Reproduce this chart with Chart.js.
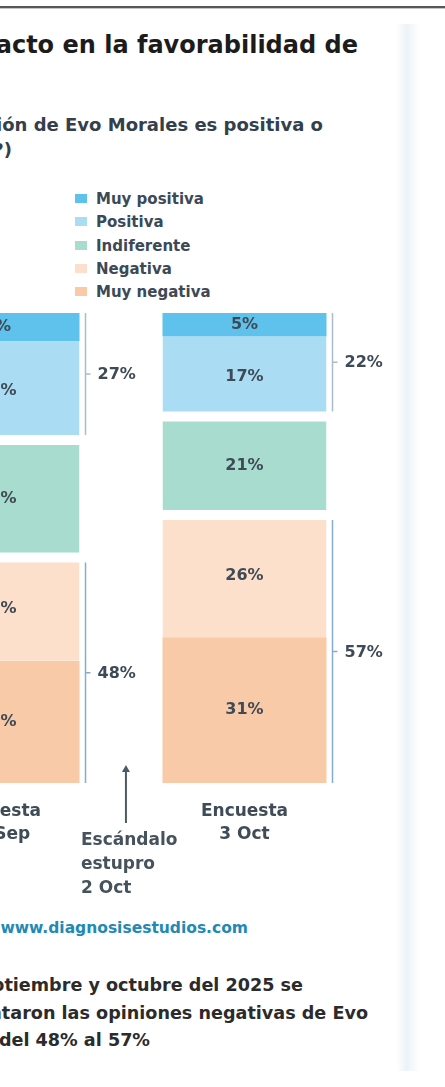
<!DOCTYPE html>
<html lang="es">
<head>
<meta charset="utf-8">
<script src="https://cdn.jsdelivr.net/npm/chart.js@4.4.0/dist/chart.umd.min.js"></script>
<style>
  body { margin:0; width:445px; height:1087px; overflow:hidden; background:#fff; position:relative; font-family:"DejaVu Sans", sans-serif; }
  .topline { position:absolute; left:0; top:6px; width:445px; height:2px; background:#585858; border-bottom:1px solid #c4c4c4; }
  .strip { position:absolute; left:396px; top:24px; width:24px; height:1047px; background:linear-gradient(to right, #fff, #edf2f6 45%, #f2f6f9 60%, #fff); }
  .txt { position:absolute; white-space:nowrap; }
  .title { font-weight:bold; font-size:24px; line-height:28px; color:#1c1c1c; }
  .sub { font-weight:bold; font-size:18px; line-height:25px; color:#33404c; }
  .src { font-weight:bold; font-size:15.5px; line-height:20px; color:#2289b4; }
  .note { font-weight:bold; font-size:17.6px; line-height:26px; color:#2b2b2b; }
  #legend { position:absolute; left:75px; top:188px; }
  .item { height:23.3px; line-height:23.3px; font-size:15px; font-weight:bold; color:#3c4956; white-space:nowrap; }
  .box { display:inline-block; width:12px; height:9px; margin-right:9px; vertical-align:1px; }
  #chart { position:absolute; left:-126px; top:300px; }
</style>
</head>
<body>
<div class="topline"></div>
<div class="strip"></div>

<div class="txt title" style="right:87px; top:31px;">Impacto en la favorabilidad de</div>
<div class="txt sub" style="right:122px; top:112px;">(Pregunta: ¿Su opinión de Evo Morales es positiva o</div>
<div class="txt sub" style="right:433px; top:137px;">negativa?)</div>

<div id="legend"></div>
<canvas id="chart" width="526" height="603"></canvas>

<div class="txt src" style="right:197px; top:918px;">Fuente: www.diagnosisestudios.com</div>
<div class="txt note" style="right:142px; top:972px;">Entre septiembre y octubre del 2025 se</div>
<div class="txt note" style="right:77px; top:1000px;">aumentaron las opiniones negativas de Evo</div>
<div class="txt note" style="right:295px; top:1027px;">Morales del 48% al 57%</div>

<script>
const categories = [["Encuesta", "26 Sep"], ["Encuesta", "3 Oct"]];
const seriesNames = ["Muy positiva", "Positiva", "Indiferente", "Negativa", "Muy negativa"];
const muyPositiva = [6, 5];
const positiva = [21, 17];
const indiferente = [25, 21];
const negativa = [22, 26];
const muyNegativa = [26, 31];
const colors = ["#5ec2ec", "#aadcf4", "#a8dccf", "#fde0cb", "#f9caa8"];
const eventLabel = ["Escándalo", "estupro", "2 Oct"];

const values = [muyPositiva, positiva, indiferente, negativa, muyNegativa];
// white borders make the gaps between positive / indifferent / negative blocks
const gaps = [
  { top: 0, bottom: 0, left: 0, right: 0 },
  { top: 0, bottom: 5, left: 0, right: 0 },
  { top: 5, bottom: 5, left: 0, right: 0 },
  { top: 5, bottom: 0, left: 0, right: 0 },
  { top: 0, bottom: 0, left: 0, right: 0 },
];

// legend
const legend = document.getElementById("legend");
seriesNames.forEach((name, i) => {
  const row = document.createElement("div");
  row.className = "item";
  row.innerHTML = '<span class="box" style="background:' + colors[i] + '"></span>' + name;
  legend.appendChild(row);
});

const overlay = {
  id: "overlay",
  afterDatasetsDraw(chart) {
    const ctx = chart.ctx;
    const area = chart.chartArea;
    ctx.save();
    ctx.textAlign = "center";
    ctx.textBaseline = "middle";
    ctx.font = "bold 16px 'DejaVu Sans'";
    ctx.fillStyle = "#3e4a55";
    chart.data.datasets.forEach((ds, i) => {
      chart.getDatasetMeta(i).data.forEach((bar, j) => {
        ctx.fillText(ds.data[j] + "%", bar.x, (bar.y + bar.base) / 2);
      });
    });

    // brackets for positive and negative totals
    const groups = [[0, 1], [3, 4]];
    chart.getDatasetMeta(0).data.forEach((bar, j) => {
      const bx = bar.x + bar.width / 2 + 6;
      groups.forEach((g, n) => {
        const a = chart.getDatasetMeta(g[0]).data[j];
        const b = chart.getDatasetMeta(g[1]).data[j];
        const top = Math.min(a.y, a.base) + gaps[g[0]].top;
        const bottom = Math.max(b.y, b.base) - gaps[g[1]].bottom;
        const mid = (top + bottom) / 2;
        const total = values[g[0]][j] + values[g[1]][j];
        ctx.strokeStyle = n === 0 ? "#a9bccb" : "#86acd0";
        ctx.lineWidth = 1.5;
        ctx.beginPath();
        ctx.moveTo(bx, top);
        ctx.lineTo(bx, bottom);
        ctx.moveTo(bx, mid);
        ctx.lineTo(bx + 5, mid);
        ctx.stroke();
        ctx.textAlign = "left";
        ctx.fillStyle = "#3e4a56";
        ctx.fillText(total + "%", bx + 12, mid + 1);
      });
    });

    // event arrow between the two surveys
    const ax = chart.scales.x.getPixelForValue(0.52);
    const head = area.bottom - 18;
    ctx.strokeStyle = "#4c5a66";
    ctx.fillStyle = "#4c5a66";
    ctx.lineWidth = 2;
    ctx.beginPath();
    ctx.moveTo(ax, head + 4);
    ctx.lineTo(ax, area.bottom + 40);
    ctx.stroke();
    ctx.beginPath();
    ctx.moveTo(ax, head);
    ctx.lineTo(ax - 4, head + 7);
    ctx.lineTo(ax + 4, head + 7);
    ctx.closePath();
    ctx.fill();
    ctx.textAlign = "left";
    ctx.font = "bold 17px 'DejaVu Sans'";
    ctx.fillStyle = "#46525c";
    eventLabel.forEach((t, k) => {
      ctx.fillText(t, ax - 45, area.bottom + 58 + k * 24);
    });
    ctx.restore();
  }
};

new Chart(document.getElementById("chart"), {
  type: "bar",
  data: {
    labels: categories,
    datasets: seriesNames.map((name, i) => ({
      label: name,
      data: values[i],
      backgroundColor: colors[i],
      borderColor: "#ffffff",
      borderWidth: gaps[i],
      borderSkipped: false,
      barPercentage: 0.83,
      categoryPercentage: 0.8,
    })),
  },
  options: {
    responsive: false,
    animation: false,
    layout: { padding: { top: 13, right: 32, left: 0, bottom: 0 } },
    plugins: { legend: { display: false }, tooltip: { enabled: false } },
    scales: {
      x: {
        stacked: true,
        grid: { display: false, drawTicks: false },
        border: { display: false },
        ticks: {
          padding: 17,
          color: "#3f4b56",
          font: { family: "DejaVu Sans", size: 17, weight: "bold", lineHeight: "23px" },
        },
        afterFit(scale) { scale.height = 120; },
      },
      y: {
        stacked: true,
        display: false,
        reverse: true,
        min: 0,
        max: 100,
      },
    },
  },
  plugins: [overlay],
});
</script>
</body>
</html>
